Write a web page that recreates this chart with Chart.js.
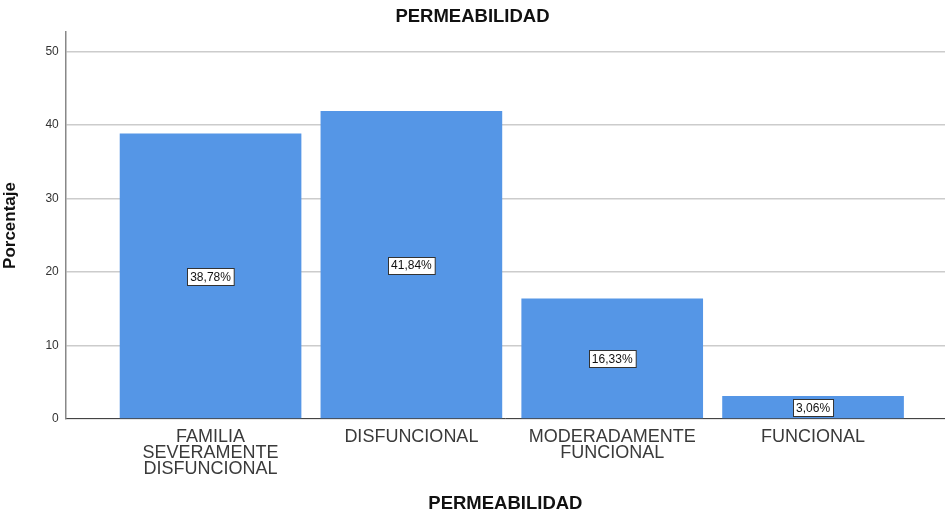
<!DOCTYPE html>
<html lang="es">
<head>
    <meta charset="UTF-8">
    <title>Permeabilidad</title>
    <script src="https://cdn.jsdelivr.net/npm/chart.js"></script>
    <style>
        body { margin: 0; background: #fff; }
        .wrap { width: 945px; height: 516px; }
    </style>
</head>
<body>
    <div class="wrap">
        <canvas id="permChart"></canvas>
    </div>

    <script>
        // Data
        const categories = [
            ['FAMILIA', 'SEVERAMENTE', 'DISFUNCIONAL'],
            'DISFUNCIONAL',
            ['MODERADAMENTE', 'FUNCIONAL'],
            'FUNCIONAL'
        ];
        const percentages = [38.78, 41.84, 16.33, 3.06];
        const yTicks = [0, 10, 20, 30, 40, 50];

        const FONT = '"Liberation Sans", Arial, sans-serif';

        // Boxed percentage labels in the middle of each bar
        const boxLabels = {
            id: 'boxLabels',
            afterDatasetsDraw(chart) {
                const ctx = chart.ctx;
                const meta = chart.getDatasetMeta(0);
                const yScale = chart.scales.y;
                ctx.save();
                ctx.font = '12px ' + FONT;
                ctx.textAlign = 'center';
                ctx.textBaseline = 'middle';
                meta.data.forEach((bar, i) => {
                    const v = percentages[i];
                    const text = v.toFixed(2).replace('.', ',') + '%';
                    const cy = yScale.getPixelForValue(v / 2);
                    const w = ctx.measureText(text).width + 6;
                    const h = 17;
                    const x0 = Math.round(bar.x - w / 2) + 0.5;
                    const y0 = Math.round(cy - h / 2) + 0.5;
                    ctx.fillStyle = '#ffffff';
                    ctx.fillRect(x0, y0, w, h);
                    ctx.strokeStyle = '#333333';
                    ctx.lineWidth = 1;
                    ctx.strokeRect(x0, y0, w, h);
                    ctx.fillStyle = '#111111';
                    ctx.fillText(text, bar.x, cy + 1);
                });
                ctx.restore();
            }
        };

        const ctx = document.getElementById('permChart').getContext('2d');
        new Chart(ctx, {
            type: 'bar',
            data: {
                datasets: [{
                    label: 'Porcentaje',
                    data: percentages.map((v, i) => ({ x: i, y: v })),
                    backgroundColor: '#5596e6',
                    borderWidth: 0,
                    barThickness: 181
                }]
            },
            plugins: [boxLabels],
            options: {
                responsive: true,
                maintainAspectRatio: false,
                animation: false,
                layout: { padding: { top: 0, right: 0, bottom: 1, left: 0 } },
                plugins: {
                    legend: { display: false },
                    tooltip: { enabled: false },
                    title: {
                        display: true,
                        text: 'PERMEABILIDAD',
                        color: '#111',
                        font: { family: FONT, size: 18.5, weight: 'bold' },
                        padding: { top: 6, bottom: 4 }
                    }
                },
                scales: {
                    x: {
                        type: 'linear',
                        offset: false,
                        min: -0.721,
                        max: 3.657,
                        afterBuildTicks: (axis) => {
                            axis.ticks = categories.map((c, i) => ({ value: i }));
                        },
                        ticks: {
                            autoSkip: false,
                            maxRotation: 0,
                            color: '#3a3a3a',
                            padding: 10,
                            font: { family: FONT, size: 18, lineHeight: 0.89 },
                            callback: (value) => categories[value]
                        },
                        grid: { display: false, drawTicks: false, offset: false },
                        border: { display: true, color: '#444', width: 1 },
                        title: {
                            display: true,
                            text: 'PERMEABILIDAD',
                            color: '#111',
                            font: { family: FONT, size: 18.5, weight: 'bold' },
                            padding: { top: 6, bottom: 0 }
                        }
                    },
                    y: {
                        min: 0,
                        max: 52.6,
                        afterBuildTicks: (axis) => {
                            axis.ticks = yTicks.map(v => ({ value: v }));
                        },
                        ticks: {
                            color: '#333',
                            padding: 7,
                            font: { family: FONT, size: 12 }
                        },
                        grid: { color: '#cccccc', lineWidth: 1.5, drawTicks: false },
                        border: { display: true, color: '#888', width: 1.5 },
                        title: {
                            display: true,
                            text: 'Porcentaje',
                            color: '#111',
                            font: { family: FONT, size: 17, weight: 'bold' },
                            padding: { top: 0, bottom: 18 }
                        }
                    }
                }
            }
        });
    </script>
</body>
</html>
